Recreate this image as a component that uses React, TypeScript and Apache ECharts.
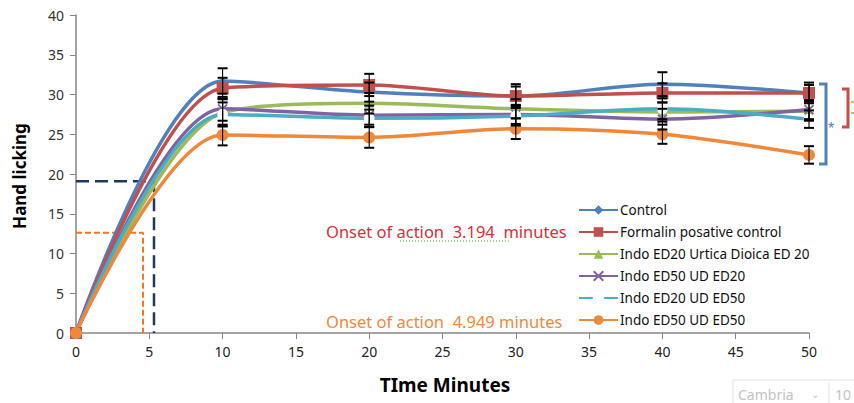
import React, { useEffect, useRef } from "react";
import * as echarts from "echarts";

const minutes = [0, 10, 20, 30, 40, 50];
const seriesNames = [
  "Control",
  "Formalin posative control",
  "Indo ED20 Urtica Dioica ED 20",
  "Indo ED50 UD ED20",
  "Indo ED20 UD ED50",
  "Indo ED50 UD ED50",
];
const control = [0, 31.7, 30.3, 29.8, 31.3, 30.2];
const formalin = [0, 30.8, 31.2, 29.8, 30.2, 30.2];
const indoED20UD20 = [0, 27.7, 28.9, 28.2, 27.8, 27.9];
const indoED50UD20 = [0, 28.2, 27.4, 27.5, 26.9, 28.1];
const indoED20UD50 = [0, 27.5, 27.0, 27.3, 28.2, 26.9];
const indoED50UD50 = [0, 24.9, 24.6, 25.7, 25.0, 22.4];

const errControl = [0, 1.6, 1.2, 1.2, 1.5, 1.0];
const errFormalin = [0, 1.3, 1.4, 1.5, 1.2, 1.3];
const errED20UD20 = [0, 1.7, 1.3, 1.2, 1.2, 1.2];
const errED50UD20 = [0, 1.5, 1.2, 1.2, 1.3, 1.2];
const errED20UD50 = [0, 1.5, 1.1, 1.2, 1.3, 1.1];
const errED50UD50 = [0, 1.3, 1.3, 1.3, 1.2, 1.1];

const onsetControl = { x: 5.32, y: 19.1 };
const onsetTreated = { x: 4.57, y: 12.6 };

const colors = ["#4F81BD", "#C0504D", "#9BBB59", "#8064A2", "#4BACC6", "#F0883A"];
const symbols = [
  "diamond",
  "rect",
  "triangle",
  "path://M0,0L10,10M10,0L0,10",
  "emptyCircle",
  "circle",
];
const symbolSizes = [7, 12, 9, 9, 9, 12];

export default function App() {
  const ref = useRef<HTMLDivElement>(null);
  useEffect(() => {
    if (!ref.current) return;
    const chart = echarts.init(ref.current, undefined, { renderer: "svg" });
    const values = [control, formalin, indoED20UD20, indoED50UD20, indoED20UD50, indoED50UD50];
    const errs = [errControl, errFormalin, errED20UD20, errED50UD20, errED20UD50, errED50UD50];

    const lineSeries = values.map((vals, i) => ({
      name: seriesNames[i],
      type: "line",
      smooth: 0.3,
      data: minutes.map((m, j) => [m, vals[j]]),
      symbol: symbols[i],
      symbolSize: symbolSizes[i],
      showAllSymbol: true,
      lineStyle: { width: 3.5, color: colors[i] },
      itemStyle: {
        color: i === 4 ? "#fff" : colors[i],
        borderColor: colors[i],
        borderWidth: i === 3 || i === 4 ? 1.8 : 0,
      },
      z: 3,
    }));

    const errData: number[][] = [];
    values.forEach((vals, i) => {
      minutes.forEach((m, j) => {
        if (errs[i][j] > 0) errData.push([m, vals[j], errs[i][j]]);
      });
    });

    const errSeries = {
      type: "custom",
      name: "err",
      data: errData,
      z: 4,
      renderItem: (params: any, api: any) => {
        const x = api.value(0);
        const y = api.value(1);
        const e = api.value(2);
        const top = api.coord([x, y + e]);
        const bot = api.coord([x, y - e]);
        const w = 5;
        const style = { stroke: "#000", lineWidth: 1.1 };
        return {
          type: "group",
          children: [
            { type: "line", shape: { x1: top[0], y1: top[1], x2: bot[0], y2: bot[1] }, style },
            { type: "line", shape: { x1: top[0] - w, y1: top[1], x2: top[0] + w, y2: top[1] }, style: { stroke: "#000", lineWidth: 2 } },
            { type: "line", shape: { x1: bot[0] - w, y1: bot[1], x2: bot[0] + w, y2: bot[1] }, style: { stroke: "#000", lineWidth: 2 } },
          ],
        };
      },
    };

    const dashSeries = [
      {
        type: "line",
        name: "onset1",
        data: [[0, onsetControl.y], [onsetControl.x, onsetControl.y], [onsetControl.x, 0]],
        symbol: "none",
        lineStyle: { color: "#1F3864", width: 2.5, type: [13, 6] },
        z: 2,
      },
      {
        type: "line",
        name: "onset2",
        data: [[0, onsetTreated.y], [onsetTreated.x, onsetTreated.y], [onsetTreated.x, 0]],
        symbol: "none",
        lineStyle: { color: "#F07820", width: 2, type: [6, 3] },
        z: 2,
      },
    ];

    chart.setOption({
      animation: false,
      grid: { left: 76, right: 45, top: 15, bottom: 70 },
      xAxis: {
        type: "value",
        min: 0,
        max: 50,
        interval: 5,
        axisLine: { lineStyle: { color: "#868686", width: 1.5 } },
        axisTick: { show: true, length: 6, lineStyle: { color: "#868686" } },
        axisLabel: { color: "#222", fontSize: 14, fontFamily: "Noto Sans", margin: 11 },
        splitLine: { show: false },
      },
      yAxis: {
        type: "value",
        min: 0,
        max: 40,
        interval: 5,
        axisLine: { show: true, lineStyle: { color: "#868686", width: 1.5 } },
        axisTick: { show: true, length: 6, lineStyle: { color: "#868686" } },
        axisLabel: { color: "#333", fontSize: 14, fontFamily: "Noto Sans", margin: 12 },
        splitLine: { show: false },
      },
      legend: {
        data: seriesNames,
        orient: "vertical",
        left: 578,
        top: 203,
        itemWidth: 39,
        itemHeight: 12,
        itemGap: 8,
        textStyle: { fontSize: 13.5, fontFamily: "Noto Sans", color: "#111", padding: [0, 0, 0, -3] },
        padding: 0,
      },
      graphic: [
        {
          type: "text",
          x: 19,
          y: 176,
          rotation: Math.PI / 2,
          style: {
            text: "Hand licking",
            fontSize: 17,
            fontWeight: "bold",
            fontFamily: "Noto Sans",
            fill: "#000",
            align: "center",
            verticalAlign: "middle",
          },
        },
        {
          type: "text",
          x: 445,
          y: 385,
          style: {
            text: "TIme Minutes",
            fontSize: 19,
            fontWeight: "bold",
            fontFamily: "Noto Sans",
            fill: "#000",
            align: "center",
            verticalAlign: "middle",
          },
        },
        {
          type: "text",
          x: 326,
          y: 231,
          style: {
            text: "Onset of action  3.194  minutes",
            fontSize: 16.5,
            fontFamily: "Noto Sans",
            fill: "#D8303A",
            verticalAlign: "middle",
          },
        },
        {
          type: "line",
          shape: { x1: 400, y1: 241, x2: 510, y2: 241 },
          style: { stroke: "#4FA83A", lineWidth: 1, lineDash: [1, 2] },
        },
        {
          type: "text",
          x: 326,
          y: 321,
          style: {
            text: "Onset of action  4.949 minutes",
            fontSize: 16.5,
            fontFamily: "Noto Sans",
            fill: "#F0883A",
            verticalAlign: "middle",
          },
        },
        {
          type: "polyline",
          shape: { points: [[819, 84], [826, 84], [826, 164], [819, 164]] },
          style: { stroke: "#4F81BD", lineWidth: 3, fill: "none" },
        },
        {
          type: "text",
          x: 831,
          y: 128,
          style: { text: "*", fontSize: 16, fill: "#4F81BD", align: "center", verticalAlign: "middle" },
        },
        {
          type: "polyline",
          shape: { points: [[842, 89], [848, 89], [848, 127], [842, 127]] },
          style: { stroke: "#C0504D", lineWidth: 3, fill: "none" },
        },
        {
          type: "line",
          shape: { x1: 851, y1: 102, x2: 854, y2: 102 },
          style: { stroke: "#F0883A", lineWidth: 1.5 },
        },
        {
          type: "line",
          shape: { x1: 851, y1: 113, x2: 854, y2: 113 },
          style: { stroke: "#F0883A", lineWidth: 1.5 },
        },
        {
          type: "rect",
          shape: { x: 733, y: 380, width: 130, height: 32 },
          style: { fill: "#fff", stroke: "#E2E2E2", lineWidth: 1 },
        },
        {
          type: "text",
          x: 738,
          y: 394,
          style: { text: "Cambria", fontSize: 14, fontFamily: "Noto Sans", fill: "#C4C4C4", verticalAlign: "middle" },
        },
        {
          type: "text",
          x: 815,
          y: 394,
          style: { text: "⌄", fontSize: 10, fill: "#C4C4C4", verticalAlign: "middle", align: "center" },
        },
        {
          type: "line",
          shape: { x1: 829, y1: 383, x2: 829, y2: 403 },
          style: { stroke: "#E2E2E2", lineWidth: 1 },
        },
        {
          type: "text",
          x: 835,
          y: 394,
          style: { text: "10", fontSize: 14, fontFamily: "Noto Sans", fill: "#C4C4C4", verticalAlign: "middle" },
        },
      ],
      series: [...dashSeries, ...lineSeries, errSeries],
    });
    return () => chart.dispose();
  }, []);
  return (
    <div
      ref={ref}
      style={{ position: "fixed", left: 0, top: 0, width: 854, height: 403, background: "#fff" }}
    />
  );
}
